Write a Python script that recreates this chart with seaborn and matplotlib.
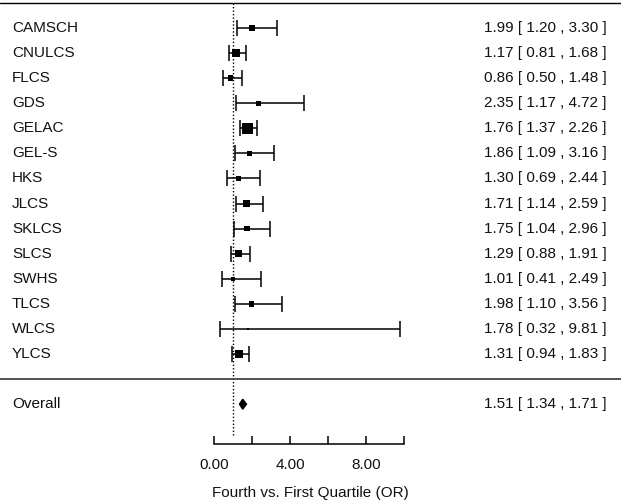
import numpy as np
import matplotlib
matplotlib.use("Agg")
import matplotlib.pyplot as plt
import matplotlib.transforms as mtransforms
import pandas as pd
import seaborn as sns

# study-level odds ratios (fourth vs first quartile)
studies = ['CAMSCH', 'CNULCS', 'FLCS', 'GDS', 'GELAC', 'GEL-S', 'HKS',
           'JLCS', 'SKLCS', 'SLCS', 'SWHS', 'TLCS', 'WLCS', 'YLCS']
odds = [1.99, 1.17, 0.86, 2.35, 1.76, 1.86, 1.30, 1.71, 1.75, 1.29, 1.01, 1.98, 1.78, 1.31]
lower = [1.20, 0.81, 0.50, 1.17, 1.37, 1.09, 0.69, 1.14, 1.04, 0.88, 0.41, 1.10, 0.32, 0.94]
upper = [3.30, 1.68, 1.48, 4.72, 2.26, 3.16, 2.44, 2.59, 2.96, 1.91, 2.49, 3.56, 9.81, 1.83]
# relative weights, estimated from the square areas
weights = [25, 49, 25, 20, 90, 25, 16, 36, 25, 36, 16, 25, 4, 56]

overall_label = 'Overall'
overall = [1.51, 1.34, 1.71]

xticks = [0, 2, 4, 6, 8, 10]
xticklabels = ['0.00', '', '4.00', '', '8.00', '']
xlabel = 'Fourth vs. First Quartile (OR)'

df = pd.DataFrame({'study': studies, 'or': odds, 'lo': lower, 'hi': upper, 'w': weights})
df['row'] = np.arange(len(df))
overall_row = len(df) + 1

sns.set_style('white')
plt.rcParams['font.family'] = ['Liberation Sans', 'DejaVu Sans']
plt.rcParams['font.size'] = 11

W, H = 621, 504
fig = plt.figure(figsize=(W / 100, H / 100), dpi=100)
# axes spans the full width, bottom edge is the x axis line
ax = fig.add_axes([0, (H - 444) / H, 1, 444 / H])

px_per_unit = 19.0
x0_px = 214
ax.set_xlim(-x0_px / px_per_unit, (W - x0_px) / px_per_unit)
row_px, first_px = 25.08, 28
ax.set_ylim((444 - first_px) / row_px, -first_px / row_px)

# confidence intervals
ax.errorbar(df['or'], df['row'],
            xerr=[df['or'] - df['lo'], df['hi'] - df['or']],
            fmt='none', ecolor='black', elinewidth=1.1, capsize=5.5, capthick=1.1)

# squares sized by weight
sns.scatterplot(data=df, x='or', y='row', size='w', sizes=(2.5, 60),
                marker='s', color='black', edgecolor='black', linewidth=0,
                legend=False, ax=ax, zorder=3)

# overall diamond
est, lo, hi = overall
half_h = 0.2
ax.fill([lo, est, hi, est], [overall_row, overall_row - half_h, overall_row, overall_row + half_h],
        color='black', zorder=3)

# reference line at OR = 1
ax.plot([1, 1], [-1, (435 - first_px) / row_px], color='black', linestyle=(0, (1, 1.5)),
        linewidth=1.0)

# top and separator lines
ax.axhline(-1, color='black', linewidth=1.0)
ax.axhline(len(df), color='#444444', linewidth=1.3)

# labels left and estimates right
trans = mtransforms.blended_transform_factory(ax.transAxes, ax.transData)
rows = list(df['row']) + [overall_row]
names = studies + [overall_label]
texts = [f'{o:.2f} [ {l:.2f} , {h:.2f} ]' for o, l, h in zip(odds, lower, upper)]
texts.append(f'{overall[0]:.2f} [ {overall[1]:.2f} , {overall[2]:.2f} ]')
for r, name, t in zip(rows, names, texts):
    ax.text(12 / W, r, name, transform=trans, ha='left', va='center', fontsize=11,
            color='#111111')
    ax.text(607 / W, r, t, transform=trans, ha='right', va='center', fontsize=11,
            color='#111111')

# x axis
for s in ['top', 'left', 'right']:
    ax.spines[s].set_visible(False)
ax.spines['bottom'].set_bounds(0, 10)
ax.spines['bottom'].set_linewidth(1.1)
ax.spines['bottom'].set_color('black')
ax.set_yticks([])
ax.set_xticks(xticks)
ax.set_xticklabels(xticklabels)
ax.tick_params(axis='x', direction='in', length=6, width=1.1, color='black',
               pad=10, labelsize=11, labelcolor='#111111', bottom=True)
ax.set_xlabel(xlabel, fontsize=11, labelpad=10, color='#111111')
ax.set_ylabel('')

fig.savefig('out.png', dpi=100)
